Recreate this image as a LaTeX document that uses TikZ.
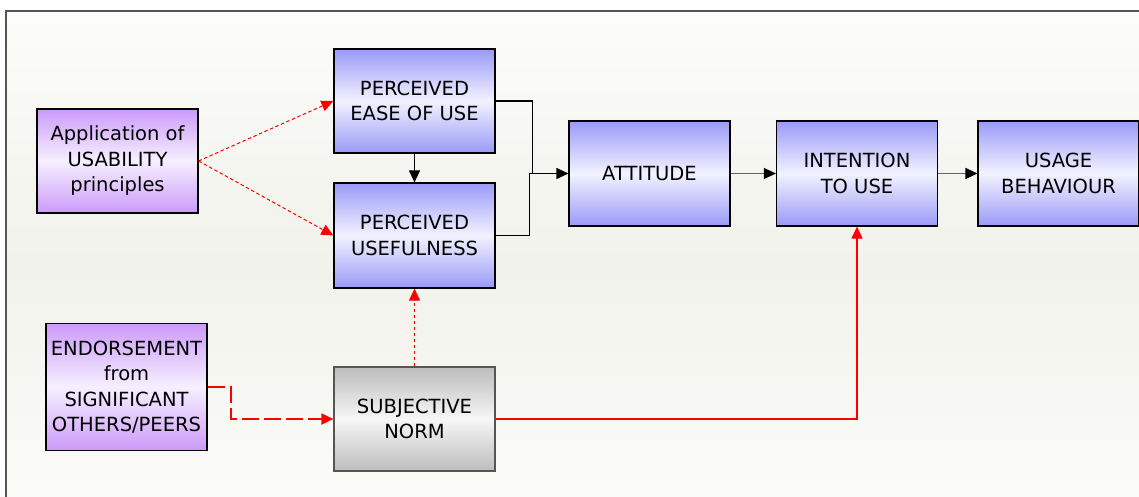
\documentclass[tikz,border=0pt]{standalone}
\usepackage{fontspec}
\setmainfont{DejaVu Sans}
\usetikzlibrary{arrows.meta}
\definecolor{bluedark}{HTML}{9A9AF8}
\definecolor{bluelight}{HTML}{F2F2FF}
\definecolor{purpdark}{HTML}{CC9AFA}
\definecolor{purplight}{HTML}{F6F0FF}
\definecolor{graydark}{HTML}{BDBDBD}
\definecolor{graylight}{HTML}{F6F6F6}
\definecolor{bgmid}{HTML}{F1F2EB}
\definecolor{bgtop}{HTML}{FCFCFA}
\definecolor{framec}{HTML}{555555}
\definecolor{lnred}{HTML}{FF0000}
\definecolor{lngray}{HTML}{646464}
\tikzset{
  box/.style={draw=black, line width=1.2pt, minimum width=161pt, inner sep=0pt,
    align=center, font=\fontsize{19.5}{25.5}\selectfont, text=black},
  bluebox/.style={box, minimum height=104pt, top color=bluedark, bottom color=bluedark, middle color=bluelight},
  purpbox/.style={box, top color=purpdark, bottom color=purpdark, middle color=purplight},
  graybox/.style={box, minimum height=104pt, draw=framec, top color=graydark, bottom color=graydark, middle color=graylight},
  tip/.style={-{Triangle[length=12pt,width=11pt]}},
  blk/.style={tip, line width=1.2pt, black},
  gryarr/.style={line width=1.2pt, draw=lngray, -{Triangle[length=12pt,width=11pt,fill=black,color=black]}},
  reddot/.style={tip, line width=1pt, lnred, dash pattern=on 3.5pt off 2.5pt},
  reddash/.style={tip, line width=1.8pt, lnred, dash pattern=on 17pt off 5pt},
  redsolid/.style={tip, line width=1.3pt, lnred},
}
\begin{document}
\begin{tikzpicture}[x=1pt,y=-1pt]
\useasboundingbox (0,0) rectangle (1139,497);
\fill[white] (0,0) rectangle (1139,497);
\shade[top color=bgtop, bottom color=bgtop, middle color=bgmid] (6,11) rectangle (1160,520);
\draw[framec, line width=1.5pt] (6,520) -- (6,11) -- (1160,11);

\node[purpbox, minimum height=104pt] (app) at (117.5,161) {Application of\\USABILITY\\principles};
\node[bluebox] (peu) at (414.5,101) {PERCEIVED\\EASE OF USE};
\node[bluebox, minimum height=105pt] (pu) at (414.5,235.5) {PERCEIVED\\USEFULNESS};
\node[bluebox, minimum height=105pt] (att) at (649.5,173.5) {ATTITUDE};
\node[bluebox, minimum height=105pt] (int) at (857,173.5) {INTENTION\\TO USE};
\node[bluebox, minimum height=105pt] (use) at (1058.5,173.5) {USAGE\\BEHAVIOUR};
\node[purpbox, minimum height=127pt] (end) at (126.5,387) {ENDORSEMENT\\from\\SIGNIFICANT\\OTHERS/PEERS};
\node[graybox] (sn) at (414.5,419) {SUBJECTIVE\\NORM};

\draw[reddot] (app.east) -- (peu.west);
\draw[reddot] (app.east) -- (pu.west);
\draw[blk] (peu.south) -- (pu.north);
\draw[line width=1.1pt] (peu.east) -- ++(37,0) |- (att.west);
\draw[blk] (pu.east) -- ++(34,0) |- (att.west);
\draw[gryarr] (att.east) -- (int.west);
\draw[gryarr] (int.east) -- (use.west);
\draw[redsolid] (sn.east) -| (int.south);
\draw[reddot] (sn.north) -- (pu.south);
\draw[reddash] (end.east) -- ++(23,0) |- (sn.west);
\end{tikzpicture}
\end{document}
